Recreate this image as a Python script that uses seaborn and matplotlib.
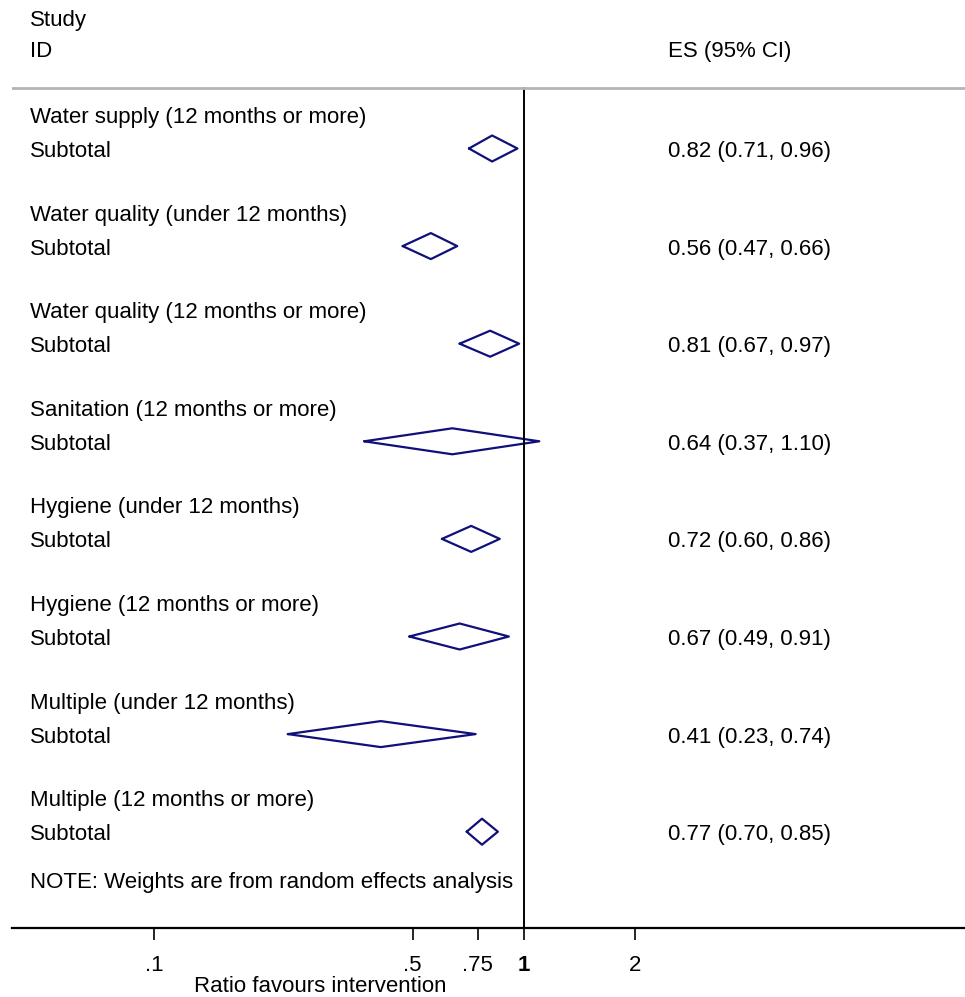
import numpy as np
import pandas as pd
import matplotlib
matplotlib.use("Agg")
import matplotlib.pyplot as plt
import matplotlib.transforms as mtransforms
import seaborn as sns

# Subgroup pooled estimates (risk ratio with 95% CI)
groups = [
    "Water supply (12 months or more)",
    "Water quality (under 12 months)",
    "Water quality (12 months or more)",
    "Sanitation (12 months or more)",
    "Hygiene (under 12 months)",
    "Hygiene (12 months or more)",
    "Multiple (under 12 months)",
    "Multiple (12 months or more)",
]
es = [0.82, 0.56, 0.81, 0.64, 0.72, 0.67, 0.41, 0.77]
lo = [0.71, 0.47, 0.67, 0.37, 0.60, 0.49, 0.23, 0.70]
hi = [0.96, 0.66, 0.97, 1.10, 0.86, 0.91, 0.74, 0.85]
tick_values = [0.1, 0.5, 0.75, 1, 2]
tick_labels = [".1", ".5", ".75", "1", "2"]

sns.set_style("white")
plt.rcParams["font.family"] = ["Liberation Sans", "DejaVu Sans"]
plt.rcParams["text.color"] = "black"

W, H = 965, 997
fig = plt.figure(figsize=(W / 100, H / 100), dpi=100)

# layout in pixel units
axis_y = 928
left_px, zero_px, decade_px = 12, 524, 370
ax = fig.add_axes([left_px / W, (H - axis_y) / H, (W - left_px) / W, axis_y / H])
ax.set_xscale("log")
ax.set_xlim(10 ** ((left_px - zero_px) / decade_px), 10 ** ((W - zero_px) / decade_px))
ax.set_ylim(axis_y, 0)

# text baselines for each block, diamonds sit slightly above the subtotal baseline
row0, row_step, sub_off = 123, 97.6, 34
title_y = [row0 + row_step * i for i in range(len(groups))]
sub_y = [t + sub_off for t in title_y]
dia_y = [s - 8.5 for s in sub_y]
half_h = 13

# diamonds as closed outlines
rows = []
for i, (e, l, h, y) in enumerate(zip(es, lo, hi, dia_y)):
    for x, yy in [(l, y), (e, y - half_h), (h, y), (e, y + half_h), (l, y)]:
        rows.append({"g": i, "x": x, "y": yy})
dia = pd.DataFrame(rows)
sns.lineplot(data=dia, x="x", y="y", units="g", estimator=None, sort=False,
             color="#10107a", lw=1.6, ax=ax, legend=False)

# reference line at 1 and header rule
ax.axvline(1, ymin=0, ymax=(axis_y - 88) / axis_y, color="black", lw=1.4)
ax.axhline(88, color="#b4b4b4", lw=2)

for s in ["left", "top", "right"]:
    ax.spines[s].set_visible(False)
ax.spines["bottom"].set_color("black")
ax.spines["bottom"].set_linewidth(1.6)

ax.set_yticks([])
ax.set_xticks(tick_values)
ax.set_xticklabels(tick_labels)
ax.xaxis.set_minor_locator(matplotlib.ticker.NullLocator())
ax.tick_params(axis="x", direction="out", length=8.6, width=1.2, color="black",
               labelcolor="black", labelsize=16, pad=10.5, bottom=True)
for lab in ax.get_xticklabels():
    if lab.get_text() == "1":
        lab.set_fontweight("bold")
ax.set_xlabel("Ratio favours intervention", fontsize=16, color="black",
              va="baseline")
ax.xaxis.set_label_coords((320 - left_px) / (W - left_px), -(992 - axis_y) / axis_y)
ax.set_ylabel("")

tr = mtransforms.blended_transform_factory(ax.transAxes, ax.transData)
xl = (30 - left_px) / (W - left_px)
xr = (668 - left_px) / (W - left_px)
fs = 16

ax.text(xl, 26, "Study", transform=tr, va="baseline", ha="left", fontsize=fs)
ax.text(xl, 57, "ID", transform=tr, va="baseline", ha="left", fontsize=fs)
ax.text(xr, 57, "ES (95% CI)", transform=tr, va="baseline", ha="left", fontsize=fs)

for g, e, l, h, ty, sy in zip(groups, es, lo, hi, title_y, sub_y):
    ax.text(xl, ty, g, transform=tr, va="baseline", ha="left", fontsize=fs)
    ax.text(xl, sy, "Subtotal", transform=tr, va="baseline", ha="left", fontsize=fs)
    ax.text(xr, sy, f"{e:.2f} ({l:.2f}, {h:.2f})", transform=tr, va="baseline",
            ha="left", fontsize=fs)

ax.text(xl, 888, "NOTE: Weights are from random effects analysis", transform=tr,
        va="baseline", ha="left", fontsize=fs)

fig.savefig("out.png", dpi=100)
